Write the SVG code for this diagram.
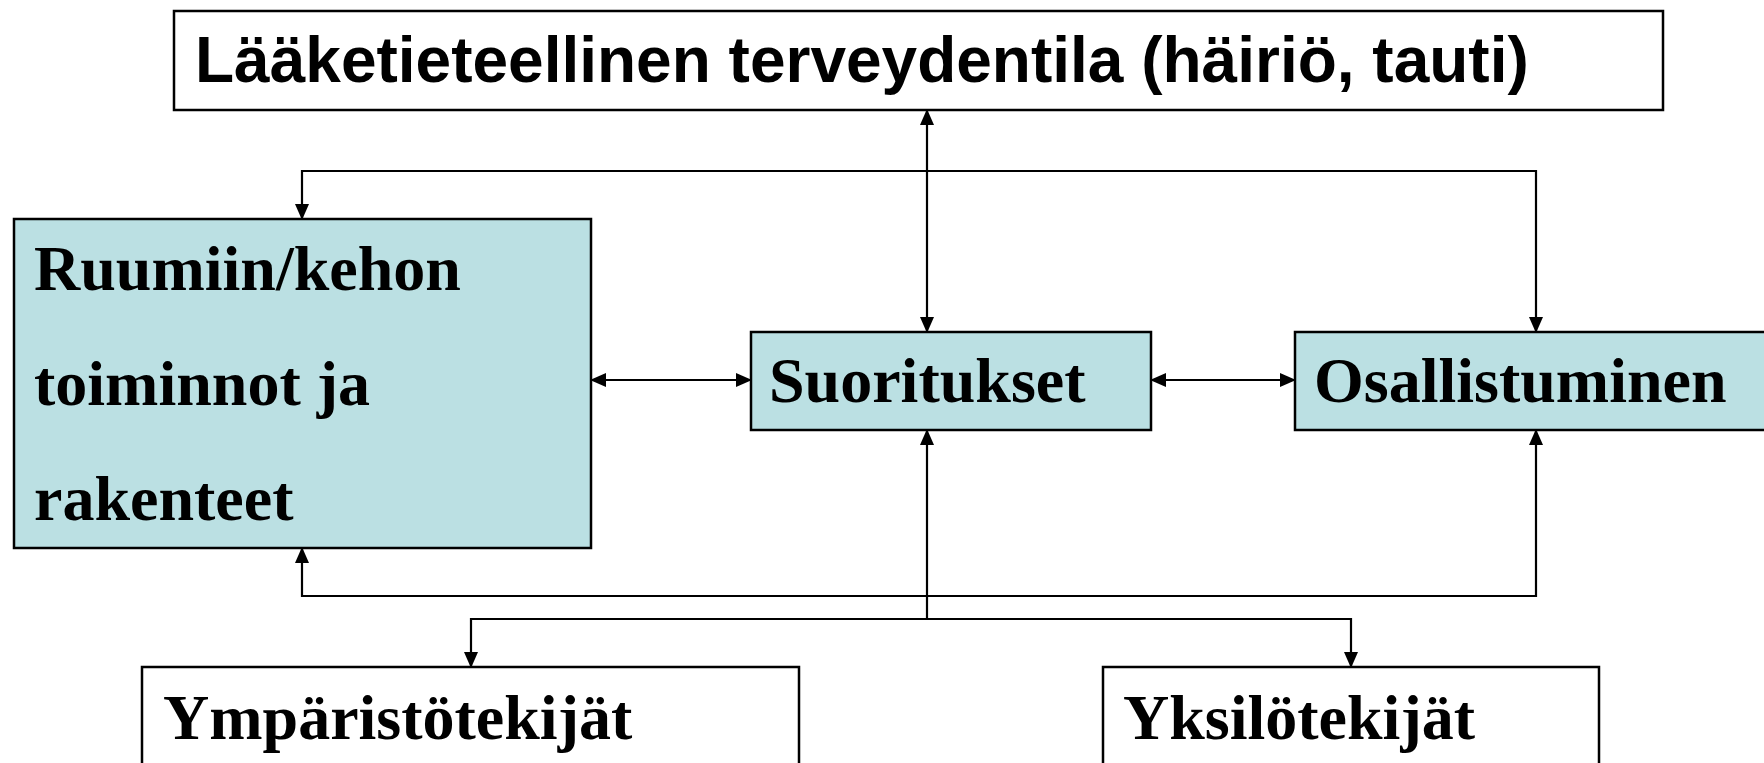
<svg xmlns="http://www.w3.org/2000/svg" width="1764" height="763" viewBox="0 0 1764 763">
<style>
.box{stroke:#000;stroke-width:2.5}
.blue{fill:#BBE0E3}
.white{fill:#fff}
.sans{font-family:"Liberation Sans",Arial,sans-serif;font-weight:bold;font-size:64px;fill:#000}
.serif{font-family:"Liberation Serif","Times New Roman",serif;font-weight:bold;font-size:64px;fill:#000}
.con{fill:none;stroke:#000;stroke-width:2.2}
</style>
<defs>
<marker id="ah" markerUnits="userSpaceOnUse" markerWidth="16" markerHeight="14" refX="15" refY="7" orient="auto-start-reverse" viewBox="0 0 16 14">
<path d="M0,0 L16,7 L0,14 z" fill="#000"/>
</marker>
</defs>
<rect width="1764" height="763" fill="#fff"/>
<g id="connectors">
<path class="con" d="M927,110 V332" marker-start="url(#ah)" marker-end="url(#ah)"/>
<path class="con" d="M927,171 H302 V219" marker-end="url(#ah)"/>
<path class="con" d="M927,171 H1536 V332" marker-end="url(#ah)"/>
<path class="con" d="M591,380 H751" marker-start="url(#ah)" marker-end="url(#ah)"/>
<path class="con" d="M1151,380 H1295" marker-start="url(#ah)" marker-end="url(#ah)"/>
<path class="con" d="M927,596 H302 V548" marker-end="url(#ah)"/>
<path class="con" d="M927,596 H1536 V430" marker-end="url(#ah)"/>
<path class="con" d="M927,619 V430" marker-end="url(#ah)"/>
<path class="con" d="M927,619 H471 V667" marker-end="url(#ah)"/>
<path class="con" d="M927,619 H1351 V667" marker-end="url(#ah)"/>
</g>
<g id="node-terveydentila">
<rect class="box white" x="174" y="11" width="1489" height="99"/>
<text class="sans" x="195" y="82">Lääketieteellinen terveydentila (häiriö, tauti)</text>
</g>
<g id="node-ruumiin">
<rect class="box blue" x="14" y="219" width="577" height="329"/>
<text class="serif" x="34" y="290">Ruumiin/kehon</text>
<text class="serif" x="34" y="405">toiminnot ja</text>
<text class="serif" x="34" y="520">rakenteet</text>
</g>
<g id="node-suoritukset">
<rect class="box blue" x="751" y="332" width="400" height="98"/>
<text class="serif" x="769" y="402">Suoritukset</text>
</g>
<g id="node-osallistuminen">
<rect class="box blue" x="1295" y="332" width="480" height="98"/>
<text class="serif" x="1314" y="402">Osallistuminen</text>
</g>
<g id="node-ymparisto">
<rect class="box white" x="142" y="667" width="657" height="110"/>
<text class="serif" x="163" y="739">Ympäristötekijät</text>
</g>
<g id="node-yksilo">
<rect class="box white" x="1103" y="667" width="496" height="110"/>
<text class="serif" x="1123" y="739">Yksilötekijät</text>
</g>
</svg>
